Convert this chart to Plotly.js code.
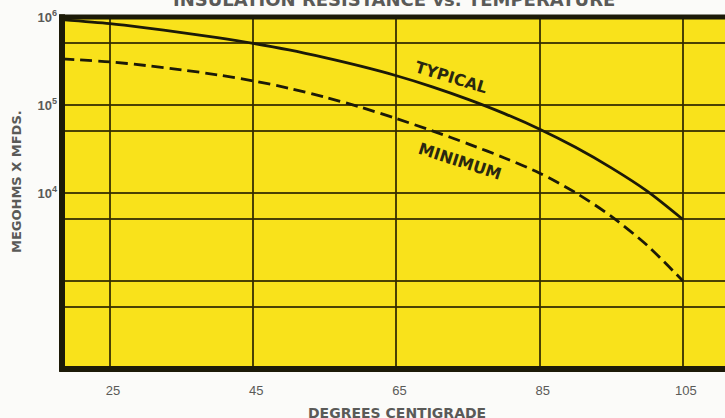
<!DOCTYPE html>
<html>
<head>
<meta charset="utf-8">
<script src="https://cdn.plot.ly/plotly-3.0.1.min.js"></script>
<style>html,body{margin:0;padding:0;background:#fbfbf9;overflow:hidden;}</style>
</head>
<body>
<div id="chart" style="width:725px;height:418px;"></div>
<script>
// Data
var temperatures = [18.3, 25, 30, 35, 40, 45, 50, 55, 60, 65, 70, 75, 80, 85, 90, 95, 100, 105];
var typicalValues = [9.33e5, 8.39e5, 7.52e5, 6.65e5, 5.82e5, 5.01e5, 4.22e5, 3.45e5, 2.76e5, 2.15e5, 1.61e5, 1.16e5, 8.04e4, 5.31e4, 3.31e4, 1.93e4, 1.05e4, 5.0e3];
var minimumValues = [3.35e5, 3.09e5, 2.81e5, 2.51e5, 2.20e5, 1.88e5, 1.55e5, 1.23e5, 9.44e4, 7.0e4, 5.09e4, 3.62e4, 2.52e4, 1.68e4, 1.01e4, 5.43e3, 2.54e3, 1.0e3];
var xTickVals = [25, 45, 65, 85, 105];
var xTickText = ['25', '45', '65', '85', '105'];
var yTickVals = [100, 500, 1e3, 5e3, 1e4, 5e4, 1e5, 5e5, 1e6];
var yTickText = ['', '', '', '', '10<sup>4</sup>', '', '10<sup>5</sup>', '', '10<sup>6</sup>'];

var ink = '#1c1a08';
var gridInk = 'rgba(50,42,0,0.88)';
var labelGray = '#5a5a58';
var wideBold = 'DejaVu Sans, Verdana, sans-serif';

var traces = [
  {x: temperatures, y: typicalValues, type: 'scatter', mode: 'lines', name: 'TYPICAL',
   line: {color: ink, width: 2.8, shape: 'spline', smoothing: 0.8}, hoverinfo: 'skip'},
  {x: temperatures, y: minimumValues, type: 'scatter', mode: 'lines', name: 'MINIMUM',
   line: {color: ink, width: 2.8, shape: 'spline', smoothing: 0.8, dash: '12px,6px'}, hoverinfo: 'skip'}
];

var layout = {
  width: 725, height: 418,
  margin: {l: 62, r: 0, t: 17, b: 49, pad: 0},
  paper_bgcolor: '#fbfbf9',
  plot_bgcolor: '#f9e21b',
  showlegend: false,
  xaxis: {
    range: [18.3, 110.87], tickmode: 'array', tickvals: xTickVals, ticktext: xTickText,
    showgrid: true, gridcolor: gridInk, gridwidth: 2, zeroline: false, showline: false,
    ticks: '', ticklabelshift: 3, ticklabelstandoff: 12,
    tickfont: {family: 'Liberation Sans Narrow, Liberation Sans, Arial', size: 13, color: labelGray}
  },
  yaxis: {
    type: 'log', range: [2, 6], tickmode: 'array', tickvals: yTickVals, ticktext: yTickText,
    showgrid: true, gridcolor: gridInk, gridwidth: 2, zeroline: false, showline: false,
    ticks: '', ticklabelstandoff: 4,
    tickfont: {family: 'Liberation Sans Narrow, Liberation Sans, Arial', size: 13, color: labelGray, weight: 'bold'}
  },
  shapes: [
    {type: 'line', xref: 'paper', yref: 'paper', x0: 0, x1: 0, y0: -0.008, y1: 1.008, line: {color: ink, width: 6}},
    {type: 'line', xref: 'paper', yref: 'paper', x0: -0.004, x1: 1, y0: 1, y1: 1, line: {color: ink, width: 5}},
    {type: 'line', xref: 'paper', yref: 'paper', x0: -0.004, x1: 1, y0: 0, y1: 0, line: {color: ink, width: 6}}
  ],
  annotations: [
    {text: 'INSULATION RESISTANCE vs. TEMPERATURE', xref: 'paper', yref: 'paper',
     x: 0.5, y: 1 + 18 / 352, xanchor: 'center', yanchor: 'middle', showarrow: false,
     font: {family: wideBold, size: 18, color: labelGray, weight: 'bold'}},
    {text: 'MEGOHMS X MFDS.', xref: 'paper', yref: 'paper', x: -46 / 663, y: (369 - 182) / 352,
     xanchor: 'center', yanchor: 'middle', textangle: -90, showarrow: false,
     font: {family: wideBold, size: 13, color: labelGray, weight: 'bold'}},
    {text: 'DEGREES CENTIGRADE', xref: 'paper', yref: 'paper', x: (397 - 62) / 663, y: -(413 - 369) / 352,
     xanchor: 'center', yanchor: 'middle', showarrow: false,
     font: {family: wideBold, size: 14, color: labelGray, weight: 'bold'}},
    {text: 'TYPICAL', xref: 'x', yref: 'y', x: 72.7, y: 5.31, textangle: 17, showarrow: false,
     font: {family: wideBold, size: 16, color: '#2a2810', weight: 'bold'}},
    {text: 'MINIMUM', xref: 'x', yref: 'y', x: 73.9, y: 4.36, textangle: 18, showarrow: false,
     font: {family: wideBold, size: 16, color: '#2a2810', weight: 'bold'}}
  ]
};

Plotly.newPlot('chart', traces, layout, {staticPlot: true, displayModeBar: false});
</script>
</body>
</html>
